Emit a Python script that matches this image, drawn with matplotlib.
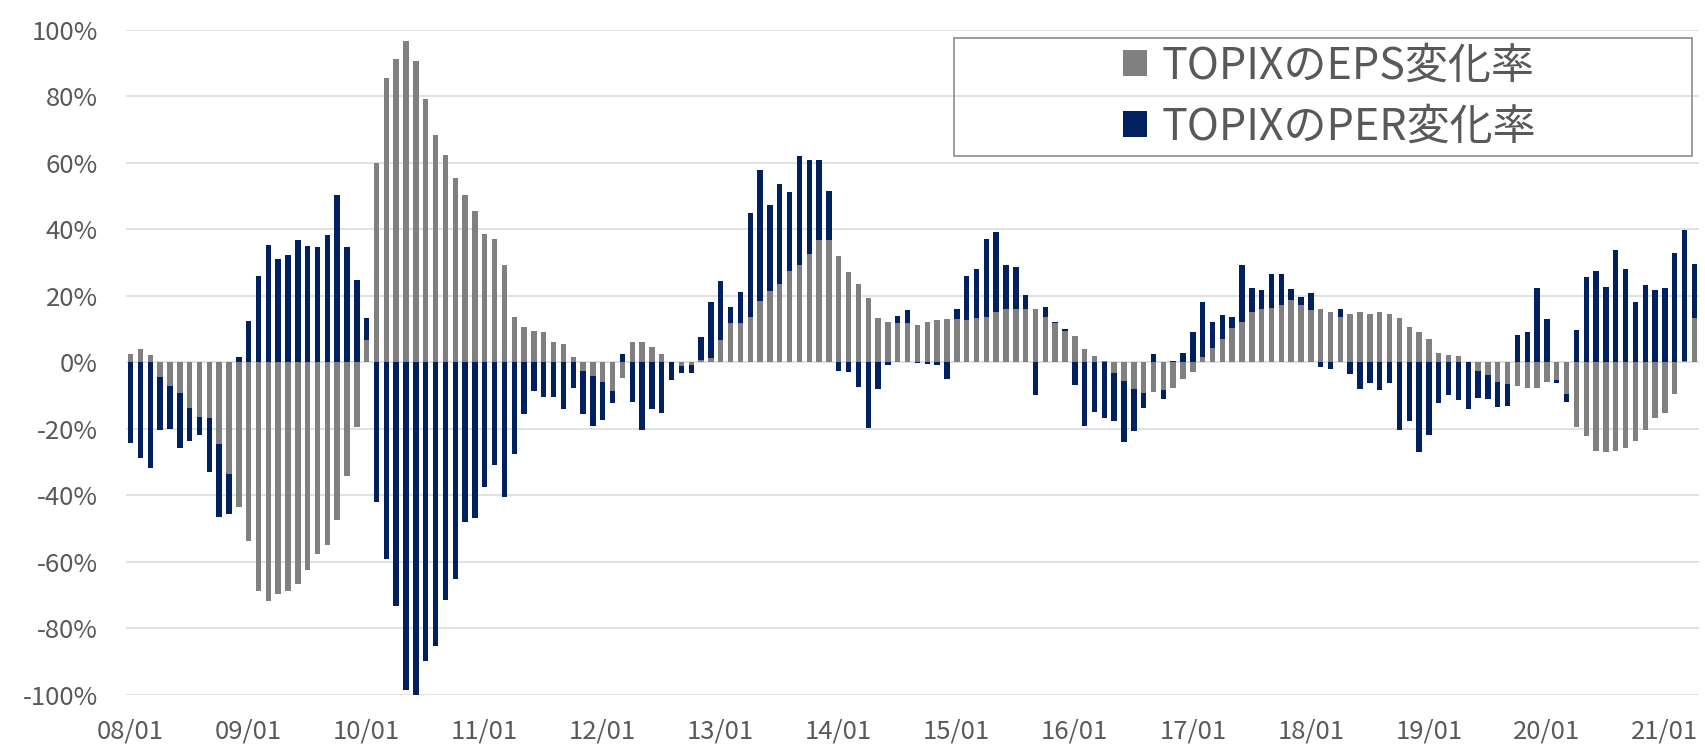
import numpy as np
import matplotlib
matplotlib.use("Agg")
import matplotlib.pyplot as plt
from matplotlib.patches import Rectangle

plt.rcParams["font.family"] = ["Noto Sans CJK JP", "DejaVu Sans"]

# monthly, 2008/01 .. 2021/04 (values in %)
eps = [
    2.4, 4.0, 2.3, -4.3, -7.1, -9.1, -13.7, -16.4, -16.9, -24.7, -33.7, -43.4,
    -53.7, -68.7, -71.6, -69.6, -68.7, -66.7, -62.3, -57.7, -55.0, -47.3, -34.3, -19.4,
    6.6, 59.9, 85.3, 91.0, 96.6, 90.6, 79.0, 68.4, 62.3, 55.3, 50.3, 45.6,
    38.4, 37.0, 29.1, 13.6, 10.6, 9.3, 9.1, 6.0, 5.6, 1.7, -2.6, -4.0,
    -5.9, -8.7, -4.6, 6.1, 6.0, 4.6, 2.4, 0.0, -1.1, -0.8, 0.6, 1.3,
    6.6, 11.7, 11.9, 13.7, 18.4, 21.4, 23.6, 27.4, 29.3, 32.6, 36.7, 36.6,
    32.0, 27.0, 23.4, 19.4, 13.3, 12.0, 11.9, 11.7, 11.1, 12.1, 12.7, 13.0,
    12.9, 12.7, 13.3, 13.6, 15.0, 16.1, 16.0, 15.9, 16.0, 13.7, 11.7, 9.4,
    7.9, 4.1, 2.0, 0.4, -3.3, -5.6, -8.0, -9.1, -9.0, -8.3, -7.6, -5.0,
    -3.0, 1.7, 4.3, 7.0, 10.3, 12.1, 15.1, 16.1, 16.4, 17.3, 18.6, 17.3,
    15.7, 16.1, 15.0, 13.7, 14.6, 15.1, 14.4, 15.0, 14.4, 13.3, 10.6, 9.0,
    7.1, 2.9, 2.3, 2.0, 0.0, -2.6, -3.7, -5.9, -6.6, -7.1, -7.6, -7.7,
    -5.9, -5.4, -9.4, -19.4, -22.3, -26.6, -27.1, -26.7, -25.9, -23.6, -20.4, -16.9,
    -15.1, -9.6, 0.3, 13.4,
]
per = [
    -24.3, -28.7, -31.7, -16.1, -12.9, -16.6, -10.0, -5.6, -16.0, -21.9, -12.0, 1.7,
    12.4, 25.9, 35.1, 31.1, 32.1, 36.7, 35.0, 34.6, 38.3, 50.4, 34.6, 24.7,
    6.8, -42.0, -59.0, -73.4, -98.6, -100.0, -89.7, -85.4, -71.3, -65.1, -48.0, -46.7,
    -37.6, -30.9, -40.6, -27.6, -15.6, -8.7, -10.4, -10.4, -14.0, -7.6, -13.0, -15.3,
    -11.4, -3.6, 2.4, -12.0, -20.4, -14.1, -15.1, -5.4, -2.2, -2.3, 7.0, 16.7,
    17.8, 5.0, 9.2, 31.2, 39.5, 25.9, 30.1, 23.9, 32.7, 28.1, 24.2, 14.8,
    -2.6, -2.9, -7.3, -19.7, -7.9, -0.9, 2.1, 3.9, -0.3, -0.6, -0.7, -5.0,
    3.1, 13.2, 14.8, 23.4, 24.1, 13.0, 12.7, 4.2, -9.7, 2.9, 0.3, 0.6,
    -6.9, -19.3, -15.0, -16.7, -14.4, -18.3, -12.6, -4.6, 2.4, -2.6, 0.3, 2.9,
    9.1, 16.4, 7.8, 7.3, 3.3, 17.0, 7.2, 5.5, 10.0, 9.1, 3.4, 2.4,
    5.0, -1.4, -1.9, 2.3, -3.6, -8.0, -6.3, -8.3, -6.3, -20.3, -17.7, -27.1,
    -22.0, -12.3, -9.7, -11.3, -14.0, -8.1, -7.3, -7.4, -6.4, 8.1, 9.0, 22.4,
    13.1, -0.9, -2.6, 9.6, 25.6, 27.3, 22.6, 33.7, 28.1, 18.0, 23.3, 21.6,
    22.4, 32.9, 39.3, 16.2,
]
tick_labels = ["08/01", "09/01", "10/01", "11/01", "12/01", "13/01", "14/01",
               "15/01", "16/01", "17/01", "18/01", "19/01", "20/01", "21/01"]
series_names = ["TOPIXのEPS変化率", "TOPIXのPER変化率"]

gray = "#808080"
navy = "#002060"
text_col = "#595959"

eps_a = np.array(eps) / 100
per_a = np.array(per) / 100
x = np.arange(len(eps_a))
# excel-style stacking: same-sign values stack, opposite signs start at zero
per_bottom = np.where(np.sign(per_a) == np.sign(eps_a), eps_a, 0.0)

fig = plt.figure(figsize=(17.06, 7.45), dpi=100)
ax = fig.add_axes([0.0737, 0.0671, 0.9224, 0.8933])

w = 0.55
b1 = ax.bar(x, eps_a, width=w, color=gray, label=series_names[0], zorder=2)
b2 = ax.bar(x, per_a, width=w, bottom=per_bottom, color=navy, label=series_names[1], zorder=2)

ax.set_xlim(-0.5, len(x) - 0.5)
ax.set_ylim(-1.0, 1.0)
ax.set_yticks(np.arange(-1.0, 1.01, 0.2))
ax.set_yticklabels([f"{int(round(v * 100))}%" for v in np.arange(-1.0, 1.01, 0.2)])
ax.set_xticks(np.arange(0, len(x), 12))
ax.set_xticklabels(tick_labels)

ax.grid(axis="y", color="#D9D9D9", linewidth=1.1, zorder=0)
ax.set_axisbelow(True)
for s in ax.spines.values():
    s.set_visible(False)
ax.tick_params(axis="both", length=0, labelsize=18.5, labelcolor=text_col)
ax.tick_params(axis="y", pad=20)
ax.tick_params(axis="x", pad=17)

# legend box (transparent, thin gray frame)
bx0, by0, bx1, by1 = 954 / 1706, 1 - 156 / 745, 1692 / 1706, 1 - 38 / 745
fig.patches.append(Rectangle((bx0, by0), bx1 - bx0, by1 - by0, transform=fig.transFigure,
                             fill=False, edgecolor="#8C8C8C", linewidth=1.2, zorder=5))
leg = fig.legend(handles=[b1, b2], loc="center",
                 bbox_to_anchor=((bx0 + bx1) / 2 + 0.004, (by0 + by1) / 2),
                 frameon=False, fontsize=31, handlelength=0.55, handleheight=0.55,
                 handletextpad=0.35, labelspacing=0.4, borderpad=0)
for t in leg.get_texts():
    t.set_color(text_col)

fig.savefig("out.png", dpi=100)
